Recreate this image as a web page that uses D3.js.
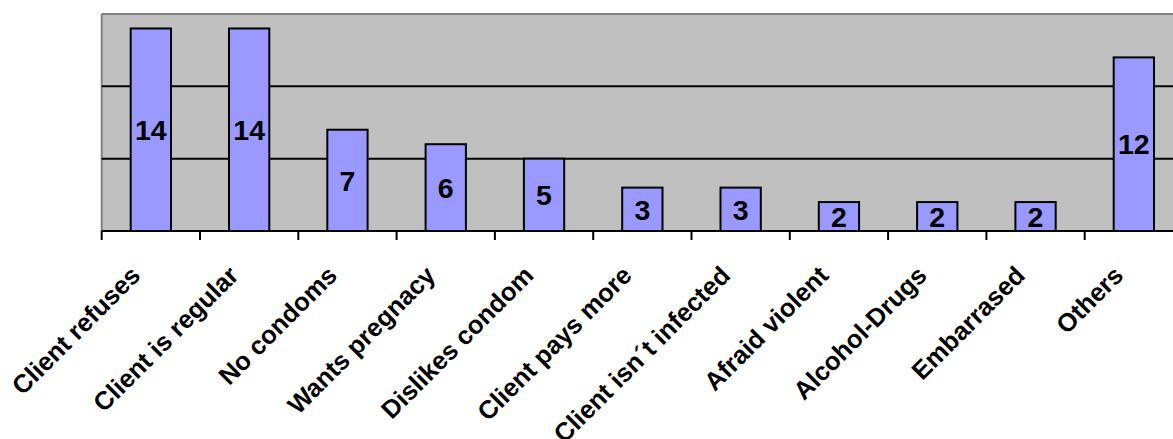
<!DOCTYPE html>
<html>
<head>
<meta charset="utf-8">
<script src="https://cdn.jsdelivr.net/npm/d3@7"></script>
<style>
  html, body { margin: 0; padding: 0; background: #ffffff; }
  svg { display: block; }
  text { font-family: "Liberation Sans", Arial, sans-serif; font-weight: bold; }
</style>
</head>
<body>
<svg id="chart" width="1173" height="439"></svg>
<script>
const categories = ["Client refuses", "Client is regular", "No condoms", "Wants pregnacy", "Dislikes condom",
  "Client pays more", "Client isn\u00b4t infected", "Afraid violent", "Alcohol-Drugs", "Embarrased", "Others"];
const values = [14, 14, 7, 6, 5, 3, 3, 2, 2, 2, 12];
const gridValues = [5, 10];

const svg = d3.select("#chart");
const plotLeft = 101.7, plotRight = 1183, plotTop = 14, plotBottom = 231;

const x = d3.scaleBand().domain(categories).range([plotLeft, plotRight]).paddingInner(0).paddingOuter(0);
const y = d3.scaleLinear().domain([0, 15]).range([plotBottom, plotTop]);

// plot background
svg.append("rect").attr("x", plotLeft).attr("y", y(15)).attr("width", plotRight - plotLeft).attr("height", y(0) - y(15))
  .attr("fill", "#c0c0c0");

// top & left border (grey)
svg.append("line").attr("x1", plotLeft).attr("x2", plotRight).attr("y1", y(15)).attr("y2", y(15))
  .attr("stroke", "#808080").attr("stroke-width", 2);
svg.append("line").attr("x1", plotLeft).attr("x2", plotLeft).attr("y1", y(15)).attr("y2", y(0))
  .attr("stroke", "#808080").attr("stroke-width", 2);

// gridlines
svg.selectAll("line.grid").data(gridValues).enter().append("line").attr("class", "grid")
  .attr("x1", plotLeft).attr("x2", plotRight).attr("y1", d => y(d)).attr("y2", d => y(d))
  .attr("stroke", "#000").attr("stroke-width", 2);

// bars
const barW = x.bandwidth() * 0.41;
svg.selectAll("rect.bar").data(values).enter().append("rect").attr("class", "bar")
  .attr("x", (d, i) => x(categories[i]) + (x.bandwidth() - barW) / 2)
  .attr("y", d => y(d))
  .attr("width", barW)
  .attr("height", d => y(0) - y(d))
  .attr("fill", "#9999ff").attr("stroke", "#000").attr("stroke-width", 2);

// value labels
svg.selectAll("text.val").data(values).enter().append("text").attr("class", "val")
  .attr("x", (d, i) => x(categories[i]) + x.bandwidth() / 2)
  .attr("y", d => (y(d) + y(0)) / 2)
  .attr("dy", "0.36em")
  .attr("text-anchor", "middle")
  .attr("font-size", 28.5)
  .attr("fill", "#000")
  .text(d => d);

// x axis
const xAxis = svg.append("g").attr("transform", `translate(0,${plotBottom})`);
xAxis.append("line").attr("x1", plotLeft).attr("x2", plotRight).attr("y1", 0).attr("y2", 0)
  .attr("stroke", "#000").attr("stroke-width", 2);
const tickPos = categories.map(c => x(c)).concat([plotRight]);
xAxis.selectAll("line.tick").data(tickPos).enter().append("line").attr("class", "tick")
  .attr("x1", d => d).attr("x2", d => d).attr("y1", 0).attr("y2", 9)
  .attr("stroke", "#000").attr("stroke-width", 2);

xAxis.selectAll("text.cat").data(categories).enter().append("text").attr("class", "cat")
  .attr("transform", c => `translate(${x(c) + x.bandwidth() / 2 - 9},${46}) rotate(-45)`)
  .attr("text-anchor", "end")
  .attr("font-size", 25.5)
  .attr("fill", "#000")
  .text(c => c);
</script>
</body>
</html>
